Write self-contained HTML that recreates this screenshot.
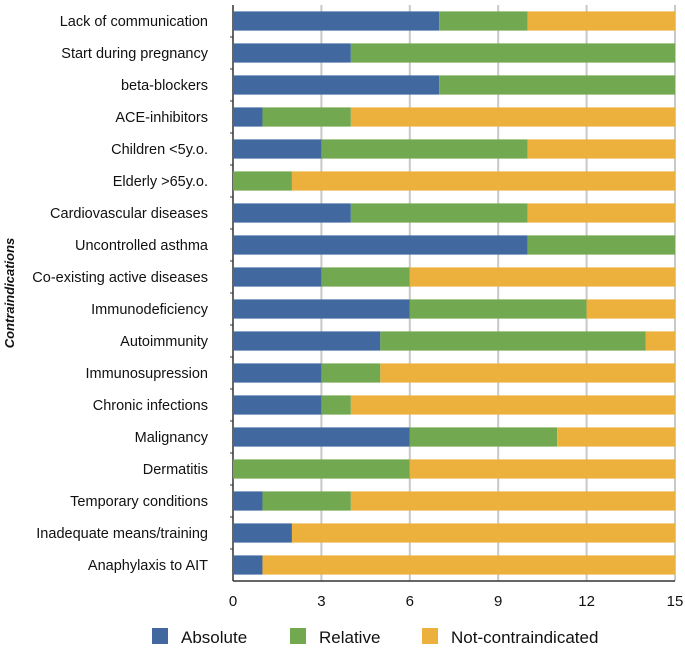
<!DOCTYPE html>
<html><head><meta charset="utf-8"><style>
body{margin:0;background:#fff;font-family:"Liberation Sans",sans-serif}
svg text{font-family:"Liberation Sans",sans-serif}
</style></head><body>
<svg id="c" width="685" height="650"></svg>
<script>
const categories=["Lack of communication","Start during pregnancy","beta-blockers","ACE-inhibitors","Children <5y.o.","Elderly >65y.o.","Cardiovascular diseases","Uncontrolled asthma","Co-existing active diseases","Immunodeficiency","Autoimmunity","Immunosupression","Chronic infections","Malignancy","Dermatitis","Temporary conditions","Inadequate means/training","Anaphylaxis to AIT"];
const absolute=[7,4,7,1,3,0,4,10,3,6,5,3,3,6,0,1,2,1];
const relative=[3,11,8,3,7,2,6,5,3,6,9,2,1,5,6,3,0,0];
const notContra=[5,0,0,11,5,13,5,0,9,3,1,10,11,4,9,11,13,14];
const ticks=[0,3,6,9,12,15];
const seriesNames=["Absolute","Relative","Not-contraindicated"];
const NS="http://www.w3.org/2000/svg";
const svg=document.getElementById('c');
const X0=233,X1=675,Y0=5,Y1=581,maxV=15;
const x=v=>X0+(X1-X0)*v/maxV;
const band=(Y1-Y0)/categories.length;
const y=i=>Y0+band*i;
const colors=["#4169a0","#72a84f","#ecb13c"];
function mk(t,a,p){const e=document.createElementNS(NS,t);for(const k in a)e.setAttribute(k,a[k]);(p||svg).appendChild(e);return e;}
ticks.forEach(t=>{
 const g=mk('line',{x1:x(t),x2:x(t),y1:Y0,y2:Y1,stroke:t==0?'#333':'#c8c8c8','stroke-width':t==0?1.5:2});
 
 
 const tl=mk('text',{x:x(t),y:Y1+25,'text-anchor':'middle','font-size':15,fill:'#111'});
 tl.textContent=t;
 
 
});
const ax=mk('line',{x1:X0,x2:X1,y1:Y1,y2:Y1,stroke:'#333','stroke-width':1.5});


for(let i=1;i<categories.length;i++){mk('line',{x1:X0-3,x2:X0,y1:y(i),y2:y(i),stroke:'#333'});}
const series=[absolute,relative,notContra];
categories.forEach((c,i)=>{
 let acc=0;const bh=band*0.6,by=y(i)+(band-bh)/2;
 series.forEach((s,k)=>{
  if(s[i]>0){
   const r=mk('rect',{x:x(acc),y:by,width:x(acc+s[i])-x(acc),height:bh,fill:colors[k]});
   
   
  }
  acc+=s[i];
 });
 const t=mk('text',{x:208,y:y(i)+band/2+5,'text-anchor':'end','font-size':14.5,fill:'#111'});
 t.textContent=c;
 
 
});
const yt=mk('text',{x:0,y:0,transform:'translate(14,'+((Y0+Y1)/2)+') rotate(-90)','text-anchor':'middle','font-size':13,'font-weight':'bold','font-style':'italic',fill:'#111'});
yt.textContent="Contraindications";


const lx=[152,290,422];
seriesNames.forEach((n,k)=>{
 const r=mk('rect',{x:lx[k],y:628,width:16,height:16,fill:colors[k]});
 
 
 const t=mk('text',{x:lx[k]+29,y:643,'font-size':17,fill:'#111'});
 t.textContent=n;
 
 
});
</script>
</body></html>
